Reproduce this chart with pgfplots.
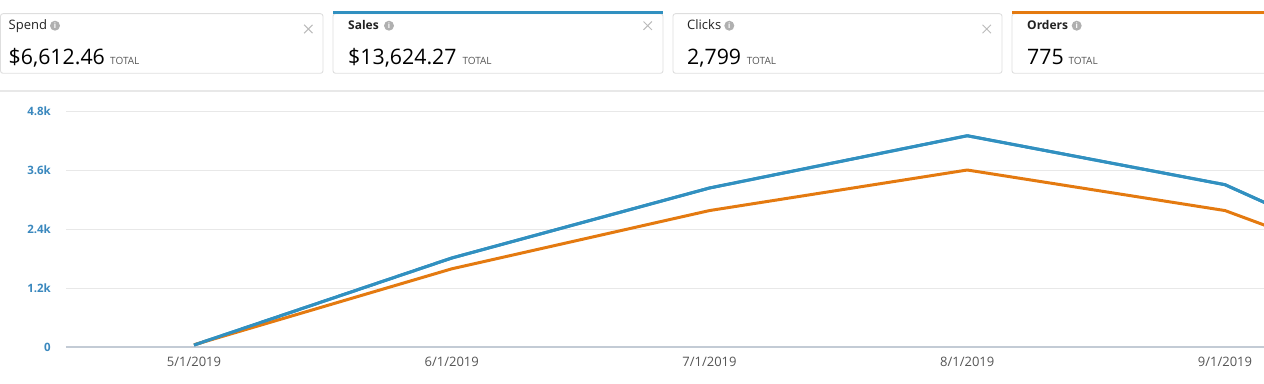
\documentclass[border=0pt]{standalone}
\usepackage{pgfplots}
\pgfplotsset{compat=1.18}
\usepackage{fontspec}
\setmainfont{Open Sans}
\definecolor{sblue}{HTML}{3190C0}
\definecolor{sorange}{HTML}{E47A10}
\definecolor{cardline}{HTML}{DEDEDE}
\definecolor{gridc}{HTML}{E8E8E8}
\definecolor{axisc}{HTML}{C3CBD5}
\definecolor{tickblue}{HTML}{3A88BE}
\definecolor{datec}{HTML}{555555}
\definecolor{iconc}{HTML}{B0B0B0}
\definecolor{closec}{HTML}{BBBBBB}
\definecolor{headc}{HTML}{222222}
\definecolor{totc}{HTML}{555555}

\pgfplotstableread{
x sales
0 40
1 1810
2 3234
3 4297
4 3301
5 942
}\salesdata
\pgfplotstableread{
x orders
0 3
1 106
2 185
3 240
4 185
5 56
}\ordersdata

\newcommand{\infoicon}[2]{%
  \fill[iconc] (#1,#2) circle (5);
  \node[text=white,inner sep=0pt,font=\fontsize{7.5}{7.5}\selectfont\bfseries] at (#1,#2+0.2) {i};}
\newcommand{\closex}[2]{%
  \draw[closec,line width=1pt] (#1-4.2,#2-4.2) -- (#1+4.2,#2+4.2) (#1-4.2,#2+4.2) -- (#1+4.2,#2-4.2);}

\begin{document}
\begin{tikzpicture}[x=1pt,y=1pt]
\path[use as bounding box] (0,0) rectangle (1264,383);
\clip (0,0) rectangle (1264,383);

% cards
\draw[cardline,rounded corners=2.5pt,line width=0.9pt] (0.5,309.7) rectangle (323,369.3);
\draw[cardline,rounded corners=2.5pt,line width=0.9pt] (333,309.7) rectangle (663,369.3);
\draw[cardline,rounded corners=2.5pt,line width=0.9pt] (673,309.7) rectangle (1002,369.3);
\draw[cardline,rounded corners=2.5pt,line width=0.9pt] (1012,309.7) rectangle (1275,369.3);
\fill[sblue] (333,369.3) rectangle (663,372.3);
\fill[sorange] (1012,369.3) rectangle (1275,372.3);

% card texts
\node[anchor=base west,inner sep=0pt,text=headc,font=\fontsize{13}{15}\selectfont] at (8.5,353) {Spend};
\node[anchor=base west,inner sep=0pt,text=headc,font=\fontsize{12}{15}\selectfont\bfseries] at (348,353) {Sales};
\node[anchor=base west,inner sep=0pt,text=headc,font=\fontsize{13}{15}\selectfont] at (687,353) {Clicks};
\node[anchor=base west,inner sep=0pt,text=headc,font=\fontsize{12}{15}\selectfont\bfseries] at (1027,353) {Orders};

\infoicon{55}{357.3}
\infoicon{389}{357.3}
\infoicon{729.3}{357.3}
\infoicon{1076.7}{357.3}

\closex{308.3}{354}
\closex{647.7}{357.3}
\closex{986.7}{354}

\node[anchor=base west,inner sep=0pt,text=black,font=\fontsize{21.3}{24}\selectfont] at (8.5,318) {\$6,612.46};
\node[anchor=base west,inner sep=0pt,text=black,font=\fontsize{21.3}{24}\selectfont] at (348,318) {\$13,624.27};
\node[anchor=base west,inner sep=0pt,text=black,font=\fontsize{21.3}{24}\selectfont] at (687,318) {2,799};
\node[anchor=base west,inner sep=0pt,text=black,font=\fontsize{21.3}{24}\selectfont] at (1027,318) {775};

\node[anchor=base west,inner sep=0pt,text=totc,font=\fontsize{10}{12}\selectfont] at (110,318.7) {TOTAL};
\node[anchor=base west,inner sep=0pt,text=totc,font=\fontsize{10}{12}\selectfont] at (462.3,318.7) {TOTAL};
\node[anchor=base west,inner sep=0pt,text=totc,font=\fontsize{10}{12}\selectfont] at (746.7,318.7) {TOTAL};
\node[anchor=base west,inner sep=0pt,text=totc,font=\fontsize{10}{12}\selectfont] at (1068.3,318.7) {TOTAL};

% separator
\draw[gridc,line width=1.2pt] (0,292) -- (1264,292);

\begin{axis}[
  at={(66pt,36pt)}, anchor=south west,
  scale only axis, width=1198pt, height=236pt,
  xmin=-0.4966, xmax=4.1513, ymin=0, ymax=4800,
  axis lines=left,
  y axis line style={draw=none},
  x axis line style={draw=axisc,line width=1.2pt,-},
  major tick length=0pt,
  ytick={0,1200,2400,3600,4800},
  yticklabels={0,1.2k,2.4k,3.6k,4.8k},
  ymajorgrids, grid style={gridc,line width=1pt},
  xtick={0,1,2,3,4},
  xticklabels={5/1/2019,6/1/2019,7/1/2019,8/1/2019,9/1/2019},
  /pgf/number format/assume math mode=true,
  yticklabel style={anchor=east,inner sep=0pt,xshift=-15pt,text=tickblue,font=\fontsize{11.5}{12}\selectfont\bfseries},
  xticklabel style={anchor=north,inner sep=0pt,yshift=-10pt,text=datec,font=\fontsize{13}{14}\selectfont},
]
\addplot[sblue,line width=3pt,line join=round] table[x=x,y=sales]{\salesdata};
\end{axis}
\begin{axis}[
  at={(66pt,36pt)}, anchor=south west,
  scale only axis, width=1198pt, height=236pt,
  xmin=-0.4966, xmax=4.1513, ymin=0, ymax=320,
  hide axis,
]
\addplot[sorange,line width=3pt,line join=round] table[x=x,y=orders]{\ordersdata};
\end{axis}
\begin{axis}[
  at={(66pt,36pt)}, anchor=south west,
  scale only axis, width=1198pt, height=236pt,
  xmin=-0.4966, xmax=4.1513, ymin=0, ymax=4800,
  hide axis,
]
\addplot[sblue,line width=3pt,line join=round] table[x=x,y=sales]{\salesdata};
\end{axis}
\end{tikzpicture}
\end{document}
